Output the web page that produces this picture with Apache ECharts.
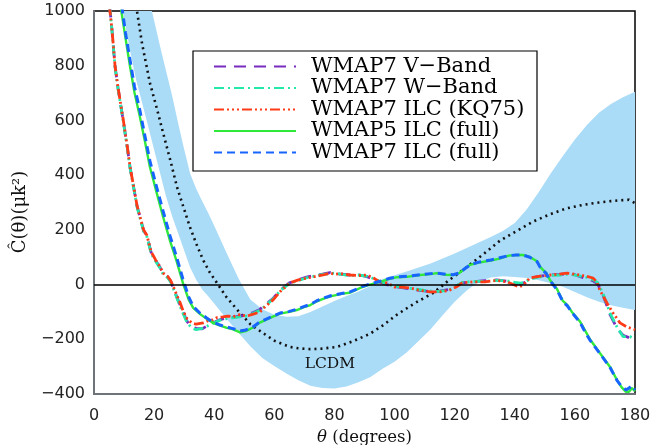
<!DOCTYPE html>
<html>
<head>
<meta charset="utf-8">
<script src="https://cdn.jsdelivr.net/npm/echarts@6/dist/echarts.min.js"></script>
<style>html,body{margin:0;padding:0;background:#fff}#c{width:663px;height:445px}</style>
</head>
<body>
<div id="c"></div>
<script>
// ---- data ----
const xTicks = [0, 20, 40, 60, 80, 100, 120, 140, 160, 180];
const yTicks = [-400, -200, 0, 200, 400, 600, 800, 1000];

// LCDM 1-sigma band
const bandTheta = [8,10,12,14,16,18,20,22,24,26,28,30,32,34,36,38,40,44,48,52,56,60,64,68,72,76,80,84,88,92,96,100,104,108,112,116,120,124,128,132,136,140,144,148,152,156,160,164,168,172,176,180];
const bandLow  = [1100,975,855,750,665,580,493,407,321,250,188,125,62,18,-18,-43,-69,-124,-175,-225,-268,-298,-325,-350,-370,-378,-380,-373,-357,-338,-308,-282,-248,-206,-163,-112,-63,-22,10,26,30,28,24,16,5,-8,-27,-46,-63,-76,-85,-93];
const bandHigh = [1600,1500,1400,1300,1180,1060,965,870,780,690,590,495,405,350,305,262,215,118,24,-55,-90,-110,-118,-116,-100,-80,-60,-42,-25,-5,20,34,48,62,77,95,114,134,154,174,196,225,275,338,407,470,530,583,628,660,685,705];

// LCDM expectation (dotted)
const lcdmTheta = [13.5,14.3,16,18.6,21,23,25.5,27.6,30,31.9,34,36.3,38.5,40.9,44,48.6,52,56.2,60,65.2,68,72,76,80.8,86,91.8,96,100.8,105,108,112.8,118,124,130,135,140,146,152,157,163,168,172,175,178,180];
const lcdmVal   = [1040,1000,880,737,640,554,450,357,275,211,150,90,45,6,-45,-104,-145,-177,-205,-228,-233,-236,-234,-228,-208,-180,-150,-110,-80,-60,-31,15,64,115,160,192,230,258,278,292,300,305,308,310,298];

// WMAP7 ILC (KQ75)
const kqTheta = [5.1,6,7,8,9.6,11,12,13,14.3,15.5,16.5,17.6,19,20.5,22,23,24.5,25.5,26.5,27.6,28.6,29.6,31,32.5,34,36.3,38,39.6,41,42.9,44.5,46.2,48.5,50.9,53,55.2,57,59.6,62,65.2,68,70.9,73,76.2,78.5,80,82,85.2,88,90.8,93,95,97.5,100,102,105,108,111.8,115,118,120.5,122.5,126,130,134,137.4,139.5,141.5,143,145,148,151.7,155,157.4,160,161.7,164,166,167.3,168.3,170.7,172.7,175,177.3,180];
const kqVal   = [1020,930,800,720,612,510,430,370,290,240,200,180,120,90,65,42,30,15,-10,-40,-65,-95,-125,-140,-145,-140,-132,-129,-120,-118,-115,-118,-110,-115,-108,-100,-80,-56,-25,6,17,24,28,35,42,38,40,35,33,35,24,10,6,-9,-9,-12,-20,-27,-27,-22,-9,6,10,10,15,10,0,-9,0,24,30,35,38,42,38,35,30,24,10,-20,-68,-104,-140,-155,-165];

// WMAP7 W-Band
const wTheta = [5.2,6,7,8,9.6,11,12,13,14.3,15.5,16.5,17.6,19,20.5,22,23,24.5,25.5,26.5,27.6,28.6,29.6,31,32.5,34,36,38,40,42,44,46,48.5,51,53,55,57,59.6,62,65,68,71,73,76,78.5,80,82,85,88,91,93,95,97.5,100,102,105,108,111.8,115,118,120.5,122.5,126,130,134,137.4,140,142,143.5,145,148,151.7,155,157.4,160,162,164,166,167.5,169.3,171.7,174,176,178.3,180];
const wVal   = [1020,925,795,715,605,505,425,365,285,235,195,175,115,85,60,38,25,10,-18,-50,-78,-105,-140,-158,-165,-160,-150,-140,-130,-125,-122,-118,-115,-105,-95,-78,-52,-22,4,15,26,30,37,40,42,38,33,35,30,22,12,2,-5,-8,-14,-18,-24,-25,-20,-5,8,12,12,15,14,8,5,10,20,28,33,35,38,35,30,26,18,8,-31,-104,-155,-190,-190,-200];

// WMAP7 V-Band
const vTheta = [5.2,6,7,8,9.6,11,12,13,14.3,15.5,16.5,17.6,19,20.5,22,23,24.5,25.5,26.5,27.6,28.6,29.6,31,32.5,34,36,38,40,42,44,46,48.5,51,53,55,57,59.6,62,65,68,71,73,76,78.5,80,82,85,88,91,93,95,97.5,100,102,105,108,111.8,115,118,120.5,122.5,126,130,134,137.4,140,142,143.5,145,148,151.7,155,157.4,160,162,164,166,167.5,169.3,171.7,174,176,178.3,180];
const vVal   = [1020,928,798,718,608,508,428,368,288,238,198,178,118,88,62,40,28,12,-15,-46,-74,-100,-135,-155,-160,-162,-148,-138,-128,-122,-120,-115,-112,-102,-92,-74,-50,-20,6,18,28,32,38,44,40,38,35,36,28,20,10,0,-8,-10,-16,-20,-26,-24,-18,-4,6,10,14,17,12,6,2,8,22,30,35,37,40,36,28,22,14,4,-36,-110,-160,-185,-195,-205];

// WMAP5 ILC (full)
const w5Theta = [8.8,10.5,12,13.5,15.3,17,18.6,20.5,23,25.3,27.5,29.6,31.5,33,35.3,37.5,39.6,42,44.2,46,48.6,50.5,52.9,55,58.6,61.9,65,67.5,70,72,74,76.2,79,82.8,85,87.5,89,91.8,95.2,98,100.8,104,108.5,112,114,117,119.5,121.5,123,125.1,128,132,135,138,140.5,142.7,145,147.4,148.5,150.5,151.7,154,156,157.5,159,161.7,163,165,168.3,171.7,174,175.5,177,178,179,180];
const w5Val   = [1020,900,796,700,612,520,430,350,247,160,85,5,-55,-85,-108,-125,-140,-150,-158,-163,-175,-170,-157,-140,-122,-106,-100,-93,-82,-75,-62,-52,-42,-33,-30,-18,-10,0,10,20,27,28,35,38,42,36,35,42,55,72,80,88,95,106,108,108,101,85,64,42,17,-15,-60,-75,-100,-135,-160,-200,-250,-301,-349,-375,-392,-392,-378,-390];

// WMAP7 ILC (full)
const w7Theta = [9.2,10.5,12,13.5,15.3,17,18.6,20.5,23,25.3,27.5,29.6,31.5,33,35.3,37.5,39.6,42,44.2,46,48.6,50.5,52.9,55,58.6,61.9,65,67.5,70,72,74,76.2,79,82.8,85,87.5,89,91.8,95.2,98,100.8,104,108.5,112,114,117,119.5,121.5,123,125.1,128,132,135,138,140.5,142.7,145,147.4,148.5,150.5,151.7,154,156,157.5,159,161.7,163,165,168.3,171.7,174,175.5,177,178,179,180];
const w7Val   = [1020,920,820,722,635,540,452,370,268,178,100,20,-45,-80,-105,-122,-138,-148,-155,-160,-170,-166,-155,-138,-120,-104,-98,-90,-80,-72,-60,-50,-40,-32,-28,-16,-8,2,12,22,28,30,36,40,42,38,36,42,55,72,82,90,98,106,108,108,100,84,62,40,15,-18,-62,-78,-102,-138,-165,-203,-252,-303,-350,-372,-385,-378,-370,-385];

const zip = (a, b) => a.map((t, i) => [t, b[i]]);

const names = ['WMAP7 V\u2212Band', 'WMAP7 W\u2212Band', 'WMAP7 ILC (KQ75)', 'WMAP5 ILC (full)', 'WMAP7 ILC (full)'];
const colors = ['#7a2cc0', '#22e8aa', '#ff3a16', '#2ee83a', '#1764ff'];

const chart = echarts.init(document.getElementById('c'), null, {renderer: 'canvas'});

function curve(name, data, color, type, width, z) {
  return {
    name, type: 'line', data, symbol: 'none', showSymbol: false,
    lineStyle: {color, width, type, cap: 'butt'}, itemStyle: {color},
    z, animation: false, silent: true
  };
}

chart.setOption({
  animation: false,
  grid: {left: 94, right: 28, top: 11, bottom: 51, containLabel: false, outerBoundsMode: 'none',
    show: true, borderColor: '#000', borderWidth: 1.5, backgroundColor: 'transparent'},
  xAxis: {
    type: 'value', min: 0, max: 180, interval: 20,
    axisLine: {show: true, onZero: false, lineStyle: {color: '#6f747a', width: 2}},
    axisTick: {show: false}, splitLine: {show: false},
    axisLabel: {color: '#222', fontFamily: 'DejaVu Sans', fontSize: 16, margin: 14},
    name: '{i|\u03b8} (degrees)', nameLocation: 'middle', nameGap: 33,
    nameTextStyle: {fontFamily: 'DejaVu Serif', fontSize: 16.5, color: '#111',
      rich: {i: {fontFamily: 'DejaVu Serif', fontStyle: 'italic', fontSize: 16.5, color: '#111'}}}
  },
  yAxis: {
    type: 'value', min: -400, max: 1000, interval: 200,
    axisLine: {show: true, onZero: false, lineStyle: {color: '#6f747a', width: 2}},
    axisTick: {show: false}, splitLine: {show: false},
    axisLabel: {color: '#222', fontFamily: 'DejaVu Sans', fontSize: 16, margin: 9, padding: [10, 0, 0, 0],
      formatter: v => (v < 0 ? '\u2212' + (-v) : String(v))}
  },
  legend: {
    data: names, orient: 'vertical', left: 213, top: 56, padding: 0,
    itemWidth: 82, itemHeight: 14, itemGap: 0.5,
    textStyle: {fontFamily: 'DejaVu Serif', fontSize: 21, color: '#000', lineHeight: 21, padding: [0, 0, 0, 10]},
    lineStyle: {width: 2},
    itemStyle: {opacity: 0},
    selectedMode: false, z: 6
  },
  graphic: [
    {type: 'rect', shape: {x: 193, y: 51, width: 344, height: 120}, style: {fill: '#fff', stroke: '#000', lineWidth: 1.2}, z: 5, silent: true},
    {type: 'text', x: 20, y: 212, rotation: Math.PI / 2,
      style: {text: '\u0108(\u03b8)(\u03bck\u00b2)', font: '18px "DejaVu Serif"', fill: '#111', textAlign: 'center', textVerticalAlign: 'middle'}, z: 5}
  ],
  series: [
    {name: 'band', type: 'custom', clip: true, silent: true, z: 1,
      data: bandTheta.map((t, i) => [t, bandLow[i], bandHigh[i]]),
      encode: {x: 0, y: [1, 2]},
      renderItem: function (params, api) {
        if (params.dataIndex !== 0) return;
        const pts = [];
        for (let i = 0; i < bandTheta.length; i++) pts.push(api.coord([bandTheta[i], bandHigh[i]]));
        for (let i = bandTheta.length - 1; i >= 0; i--) pts.push(api.coord([bandTheta[i], bandLow[i]]));
        return {type: 'polygon', shape: {points: pts, smooth: 0}, style: {fill: '#aadbf7'}};
      }
    },
    {name: 'LCDM', type: 'line', data: zip(lcdmTheta, lcdmVal), symbol: 'none',
      lineStyle: {color: '#111', width: 2.6, type: [2, 4], cap: 'butt'}, z: 2, silent: true,
      markLine: {silent: true, symbol: ['none', 'none'], label: {show: false},
        lineStyle: {color: '#000', width: 1.5, type: 'solid'}, data: [{yAxis: 0}]},
      markPoint: {symbol: 'circle', symbolSize: 0, silent: true,
        label: {show: true, formatter: 'LCDM', position: 'inside', fontFamily: 'DejaVu Serif', fontSize: 15.5, color: '#111'},
        data: [{coord: [78.5, -292]}]}
    },
    curve(names[0], zip(vTheta, vVal), colors[0], [12, 8], 2.8, 3),
    curve(names[1], zip(wTheta, wVal), colors[1], [10, 4, 2, 4], 2.8, 3),
    curve(names[2], zip(kqTheta, kqVal), colors[2], [10, 3, 2, 3, 2, 3, 2, 3], 2.8, 3),
    curve(names[3], zip(w5Theta, w5Val), colors[3], 'solid', 2.4, 3),
    curve(names[4], zip(w7Theta, w7Val), colors[4], [8, 5], 3, 4)
  ]
});
</script>
</body>
</html>
